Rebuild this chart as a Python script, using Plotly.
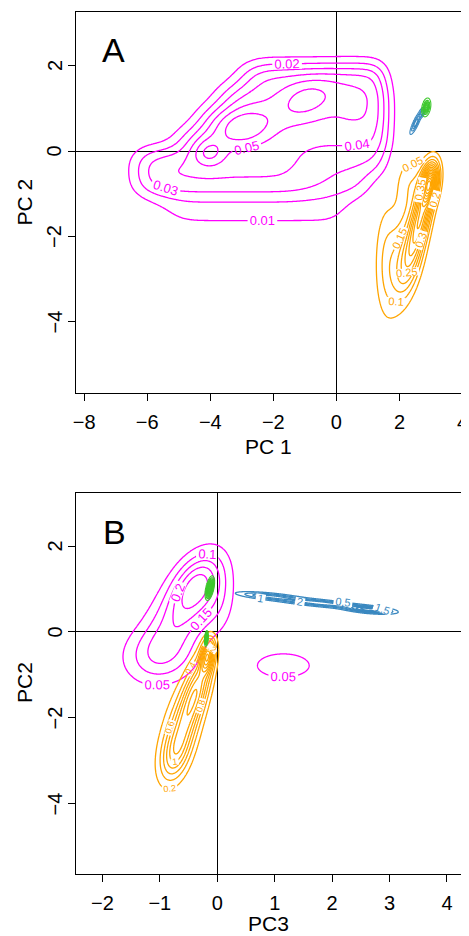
import math
import numpy as np
import plotly.graph_objects as go

# ---------------- data ----------------
# Density of each group is described as a sum of smooth "bands" and gaussian "bumps".
# band : (row centre y, row sd y, left x, left edge sd, right x, right edge sd, height)
# bump : (centre x, centre y, sd x, sd y, correlation, height)
# Panel A : PC1 (x) vs PC2 (y)
A_magenta_bands = [
    (1.75, 0.30, -2.9, 0.45, 1.5, 0.30, 0.030),
    (1.25, 0.30, -3.6, 0.45, 1.6, 0.30, 0.030),
    (0.75, 0.30, -4.2, 0.45, 1.6, 0.30, 0.030),
    (0.25, 0.30, -4.9, 0.45, 1.6, 0.30, 0.028),
    (-0.25, 0.30, -6.3, 0.45, -0.8, 0.60, 0.028),
    (-0.25, 0.30, -0.8, 0.60, 1.5, 0.30, 0.021),
    (-0.75, 0.30, -6.3, 0.45, -0.8, 0.60, 0.026),
    (-0.75, 0.30, -0.8, 0.60, 1.0, 0.35, 0.017),
    (-1.35, 0.42, -5.5, 0.50, 0.4, 0.45, 0.012),
]
A_magenta_bumps = [
    (-4.05, -0.05, 0.35, 0.22, 0.0, 0.020),
    (-2.95, 0.55, 0.70, 0.33, 0.2, 0.025),
    (-0.95, 1.20, 0.65, 0.35, 0.3, 0.020),
    (0.60, 1.10, 0.60, 0.50, 0.0, 0.007),
]
A_orange_bumps = [
    (2.95, -0.75, 0.18, 0.30, 0.3, 0.60),
    (2.70, -1.50, 0.25, 0.55, 0.6, 0.35),
    (2.35, -2.50, 0.30, 0.60, 0.5, 0.22),
    (1.95, -2.60, 0.35, 0.80, 0.3, 0.10),
    (1.55, -2.50, 0.25, 0.90, 0.0, 0.07),
    (2.30, -0.70, 0.30, 0.40, 0.0, 0.06),
    (2.50, -1.20, 0.45, 0.70, 0.5, 0.05),
]
A_blue_bumps = [
    (2.52, 0.66, 0.09, 0.13, 0.85, 18.0),
    (2.72, 0.90, 0.05, 0.06, 0.50, 16.0),
]
A_green_bumps = [
    (2.85, 1.02, 0.06, 0.09, 0.30, 30.0),
]

# Panel B : PC3 (x) vs PC2 (y)
B_magenta_bumps = [
    (-0.36, 1.15, 0.30, 0.50, 0.40, 0.20),
    (-0.65, 0.30, 0.45, 0.70, 0.50, 0.16),
    (-1.00, -0.60, 0.45, 0.45, 0.00, 0.10),
    (0.02, 0.70, 0.22, 0.60, 0.00, 0.05),
]
B_magenta_island = [
    (1.15, -0.78, 0.50, 0.30, 0.00, 0.075),
]
B_orange_bumps = [
    (-0.17, -0.55, 0.08, 0.25, 0.3, 1.60),
    (-0.35, -1.30, 0.18, 0.55, 0.6, 1.10),
    (-0.60, -2.30, 0.20, 0.60, 0.5, 0.80),
    (-0.75, -2.90, 0.17, 0.40, 0.3, 0.50),
    (-0.70, -2.20, 0.28, 0.90, 0.5, 0.22),
]
B_blue_bumps = [
    (0.90, 0.83, 0.35, 0.065, -0.65, 2.0),
    (1.80, 0.67, 0.45, 0.075, -0.75, 2.4),
    (2.65, 0.52, 0.25, 0.055, -0.50, 3.6),
]
B_green_bumps = [
    (-0.13, 1.02, 0.035, 0.12, 0.50, 35.0),
    (-0.19, -0.15, 0.015, 0.08, 0.30, 28.0),
]

# contour levels (start, end, step)
A_magenta_levels = (0.01, 0.0605, 0.01)
A_orange_levels = (0.05, 1.2, 0.05)
A_blue_levels = (2, 60, 4)
A_green_levels = (1.5, 40, 4)
B_magenta_levels = (0.05, 0.3, 0.05)
B_orange_levels = (0.2, 4, 0.2)
B_blue_levels = (0.5, 4, 0.5)
B_green_levels = (2, 40, 2.5)

# axis ticks
A_x_ticks = [-8, -6, -4, -2, 0, 2, 4]
B_x_ticks = [-2, -1, 0, 1, 2, 3, 4]
y_ticks = [-4, -2, 0, 2]

MAGENTA = "#FF00FF"
ORANGE = "#FFA500"
BLUE = "#3A88C0"
GREEN = "#3EC82E"

_phi = np.vectorize(lambda t: 0.5 * (1.0 + math.erf(t / math.sqrt(2.0))))


def density(xs, ys, bumps=(), bands=()):
    X, Y = np.meshgrid(xs, ys)
    Z = np.zeros_like(X)
    for mx, my, sx, sy, r, a in bumps:
        dx = (X - mx) / sx
        dy = (Y - my) / sy
        q = (dx * dx - 2 * r * dx * dy + dy * dy) / (1 - r * r)
        Z += a * np.exp(-0.5 * q)
    for yc, sy, x0, s0, x1, s1, h in bands:
        fx = _phi((xs - x0) / s0) - _phi((xs - x1) / s1)
        fy = np.exp(-0.5 * ((ys - yc) / sy) ** 2)
        Z += h * np.outer(fy, fx)
    return Z


def contour(z, xs, ys, levels, color, xa, ya, labels=True, lsize=12, width=1.3):
    return go.Contour(
        x=xs, y=ys, z=z, xaxis=xa, yaxis=ya,
        colorscale=[[0, color], [1, color]], showscale=False,
        contours=dict(coloring="lines", start=levels[0], end=levels[1], size=levels[2],
                      showlabels=labels, labelformat=".2~f",
                      labelfont=dict(size=lsize, color=color, family="Liberation Sans, Arial")),
        line=dict(width=width), hoverinfo="skip",
    )


def grid(lo, hi, n):
    return np.linspace(lo, hi, n)


fig = go.Figure()
xs, ys = grid(-8.2, 3.5, 300), grid(-3.2, 3.2, 220)
fig.add_trace(contour(density(xs, ys, A_magenta_bumps, A_magenta_bands), xs, ys, A_magenta_levels, MAGENTA, "x", "y", lsize=13))
xs, ys = grid(0.6, 4.0, 220), grid(-5.0, 0.6, 280)
fig.add_trace(contour(density(xs, ys, A_orange_bumps), xs, ys, A_orange_levels, ORANGE, "x", "y", lsize=11))
xs, ys = grid(2.1, 3.1, 150), grid(0.2, 1.3, 150)
fig.add_trace(contour(density(xs, ys, A_blue_bumps), xs, ys, A_blue_levels, BLUE, "x", "y", labels=False, width=1.1))
xs, ys = grid(2.5, 3.2, 120), grid(0.6, 1.45, 120)
fig.add_trace(contour(density(xs, ys, A_green_bumps), xs, ys, A_green_levels, GREEN, "x", "y", labels=False, width=1.1))

xs, ys = grid(-2.4, 0.9, 240), grid(-2.6, 3.2, 260)
fig.add_trace(contour(density(xs, ys, B_magenta_bumps), xs, ys, B_magenta_levels, MAGENTA, "x2", "y2", lsize=13))
xs, ys = grid(0.3, 2.0, 200), grid(-1.5, -0.1, 160)
fig.add_trace(contour(density(xs, ys, B_magenta_island), xs, ys, B_magenta_levels, MAGENTA, "x2", "y2", lsize=13))
xs, ys = grid(-1.7, 0.5, 230), grid(-4.6, 0.4, 320)
fig.add_trace(contour(density(xs, ys, B_orange_bumps), xs, ys, B_orange_levels, ORANGE, "x2", "y2", lsize=9))
xs, ys = grid(0.0, 3.6, 420), grid(0.2, 1.2, 260)
fig.add_trace(contour(density(xs, ys, B_blue_bumps), xs, ys, B_blue_levels, BLUE, "x2", "y2", lsize=11))
xs, ys = grid(-0.35, 0.05, 160), grid(-0.6, 1.5, 400)
fig.add_trace(contour(density(xs, ys, B_green_bumps), xs, ys, B_green_levels, GREEN, "x2", "y2", labels=False, width=1.1))

# the page body adds an 8 px margin, so positions below are screen pixels minus 8
W, H = 469, 936
OFF = 8


def px(v):
    return (v - OFF) / W


def py(v):
    return 1 - (v - OFF) / H


FONT = "Liberation Sans, Arial"
xdom = [px(76), px(462.5)]
axis_common = dict(showline=True, mirror=True, linecolor="black", linewidth=1,
                   ticks="outside", ticklen=7, tickcolor="black", tickwidth=1,
                   showgrid=False, zeroline=True, zerolinecolor="black", zerolinewidth=1,
                   tickfont=dict(size=20, color="black", family=FONT),
                   automargin=False)

fig.update_layout(
    width=W, height=H, margin=dict(l=0, r=0, t=0, b=0),
    plot_bgcolor="white", paper_bgcolor="white", showlegend=False,
    xaxis=dict(domain=xdom, range=[-8.26, 4.0], anchor="y", tickvals=A_x_ticks,
               ticklabelstandoff=4, **axis_common),
    yaxis=dict(domain=[py(393.3), py(11.7)], range=[-5.67, 3.26], anchor="x",
               tickvals=y_ticks, showticklabels=False, **axis_common),
    xaxis2=dict(domain=xdom, range=[-2.46, 4.27], anchor="y2", tickvals=B_x_ticks,
                ticklabelstandoff=4, **axis_common),
    yaxis2=dict(domain=[py(874), py(492.7)], range=[-5.63, 3.24], anchor="x2",
                tickvals=y_ticks, showticklabels=False, **axis_common),
)

# rotated y tick labels placed at the tick values of each y axis
for yref in ("y", "y2"):
    for v in y_ticks:
        fig.add_annotation(xref="paper", yref=yref, x=px(54.5), y=v, showarrow=False,
                           text=("\u2212" if v < 0 else "") + str(abs(v)), textangle=-90,
                           xanchor="center", yanchor="middle",
                           font=dict(size=20, color="black", family=FONT))

title_font = dict(size=21, color="black", family=FONT)
ann = [
    dict(text="A", x=px(113), y=py(50), font=dict(size=34, color="black", family=FONT)),
    dict(text="B", x=px(114), y=py(532), font=dict(size=34, color="black", family=FONT)),
    dict(text="PC 1", x=px(268), y=py(446), font=title_font),
    dict(text="PC3", x=px(268), y=py(923), font=title_font),
    dict(text="PC 2", x=px(24), y=py(202.5), font=title_font, textangle=-90),
    dict(text="PC2", x=px(24), y=py(683), font=title_font, textangle=-90),
]
for a in ann:
    fig.add_annotation(xref="paper", yref="paper", showarrow=False, xanchor="center", yanchor="middle", **a)

fig.write_html("out.html")
